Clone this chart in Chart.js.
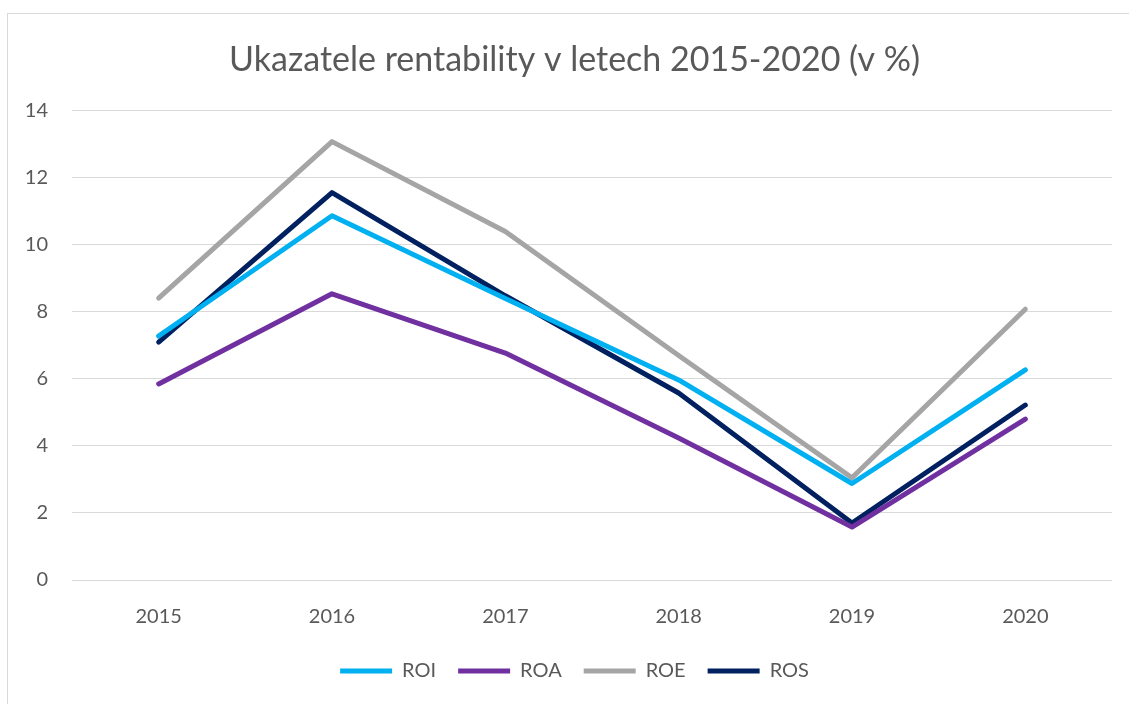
<!DOCTYPE html>
<html>
<head>
<meta charset="utf-8">
<script src="https://cdn.jsdelivr.net/npm/chart.js@4/dist/chart.umd.min.js"></script>
<style>
  html, body { margin: 0; padding: 0; background: #fff; }
  #wrap { position: relative; width: 1129px; height: 704px; overflow: hidden; }
  #frame { position: absolute; left: 7px; top: 13px; width: 1140px; height: 720px;
           border-left: 1px solid #d9d9d9; border-top: 1px solid #d9d9d9; pointer-events: none; }
  canvas { position: absolute; left: 0; top: 0; }
</style>
</head>
<body>
<div id="wrap">
  <canvas id="c" width="1129" height="704"></canvas>
  <div id="frame"></div>
</div>
<script>
const title = "Ukazatele rentability v letech 2015-2020 (v %)";
const categories = ["2015", "2016", "2017", "2018", "2019", "2020"];
const roi = [7.28, 10.87, 8.40, 5.97, 2.88, 6.27];
const roa = [5.85, 8.54, 6.77, 4.24, 1.58, 4.80];
const roe = [8.41, 13.08, 10.40, 6.70, 3.05, 8.08];
const ros = [7.10, 11.56, 8.48, 5.58, 1.70, 5.22];
const seriesNames = ["ROI", "ROA", "ROE", "ROS"];
const seriesColors = ["#00B0F0", "#7030A0", "#A5A5A5", "#002060"];
const yMin = 0, yMax = 14, yStep = 2;

const FONT = "Lato, 'Open Sans', sans-serif";
const TXT = "#595959";

function ds(label, data, color) {
  return {
    label, data,
    borderColor: color, backgroundColor: color,
    borderWidth: 5, pointRadius: 0, pointHoverRadius: 0,
    borderCapStyle: 'round', borderJoinStyle: 'round',
    tension: 0, fill: false
  };
}

new Chart(document.getElementById('c'), {
  type: 'line',
  data: {
    labels: categories,
    datasets: [
      ds(seriesNames[0], roi, seriesColors[0]),
      ds(seriesNames[1], roa, seriesColors[1]),
      ds(seriesNames[2], roe, seriesColors[2]),
      ds(seriesNames[3], ros, seriesColors[3])
    ]
  },
  options: {
    responsive: false,
    animation: false,
    devicePixelRatio: 1,
    layout: { padding: { left: 20, right: 0, top: 0, bottom: 13 } },
    plugins: {
      tooltip: { enabled: false },
      title: {
        display: true, text: title, color: TXT,
        font: { family: FONT, size: 34, weight: 'normal', lineHeight: 1.2 },
        padding: { top: 40, bottom: 30 }
      },
      legend: {
        position: 'bottom',
        labels: {
          color: TXT,
          font: { family: FONT, size: 20 },
          usePointStyle: true, pointStyle: 'line', pointStyleWidth: 52,
          boxHeight: 20, padding: 22
        }
      }
    },
    scales: {
      x: {
        offset: true,
        grid: { display: false, drawTicks: false },
        border: { display: false },
        ticks: { color: TXT, font: { family: FONT, size: 20 }, padding: 25 },
        afterFit: (s) => { s.height = 59; }
      },
      y: {
        min: yMin, max: yMax,
        grid: { color: "#d9d9d9", lineWidth: 1, drawTicks: false },
        border: { display: false },
        ticks: { stepSize: yStep, color: TXT, font: { family: FONT, size: 20 }, padding: 24 },
        afterFit: (s) => { s.width = 52; }
      },
      yRight: {
        position: 'right',
        display: true,
        grid: { display: false, drawTicks: false },
        border: { display: false },
        ticks: { display: false },
        afterFit: (s) => { s.width = 17; }
      }
    }
  }
});
</script>
</body>
</html>
